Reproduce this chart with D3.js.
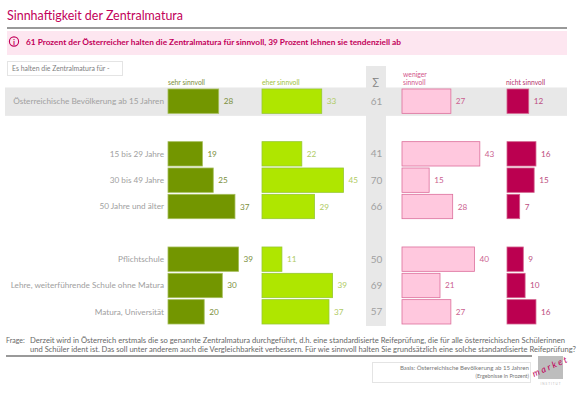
<!DOCTYPE html>
<html>
<head>
<meta charset="utf-8">
<script src="https://cdn.jsdelivr.net/npm/d3@7"></script>
<style>
  html, body { margin: 0; padding: 0; background: #fff; }
  text { font-family: Lato, "Open Sans", sans-serif; }
</style>
</head>
<body>
<div id="chart"></div>
<script>
// Values
const categories = [
  'Österreichische Bevölkerung ab 15 Jahren', '',
  '15 bis 29 Jahre', '30 bis 49 Jahre', '50 Jahre und älter', '',
  'Pflichtschule', 'Lehre, weiterführende Schule ohne Matura', 'Matura, Universität'
];
const rows = categories.filter(d => d !== '');
const sehrSinnvoll = [28, 19, 25, 37, 39, 30, 20];
const eherSinnvoll = [33, 22, 45, 29, 11, 39, 37];
const summe = [61, 41, 70, 66, 50, 69, 57];
const wenigerSinnvoll = [27, 43, 15, 28, 40, 21, 27];
const nichtSinnvoll = [12, 16, 15, 7, 9, 10, 16];

const titleText = 'Sinnhaftigkeit der Zentralmatura';
const headline = '61 Prozent der Österreicher halten die Zentralmatura für sinnvoll, 39 Prozent lehnen sie tendenziell ab';
const questionLines = [
  'Derzeit wird in Österreich erstmals die so genannte Zentralmatura durchgeführt, d.h. eine standardisierte Reifeprüfung, die für alle österreichischen Schülerinnen',
  'und Schüler ident ist. Das soll unter anderem auch die Vergleichbarkeit verbessern. Für wie sinnvoll halten Sie grundsätzlich eine solche standardisierte Reifeprüfung?'
];
const questionWidths = [535, 546];

const width = 580;
const height = 393;
const pink = '#c2005a';

const svg = d3.select('#chart').append('svg')
  .attr('width', width)
  .attr('height', height)
  .style('display', 'block');

// Rows, with the empty categories acting as gaps between the groups
const y = d3.scaleBand()
  .domain(d3.range(categories.length))
  .range([89, 324])
  .paddingInner(0.075)
  .paddingOuter(0);

const rowY = i => y(categories.indexOf(rows[i]));

// One small panel per answer
const panels = [
  { values: sehrSinnvoll, x0: 168, fill: '#739600', stroke: '#a4bd5a', text: '#7b8f3c' },
  { values: eherSinnvoll, x0: 262, fill: '#afe600', stroke: '#96c832', text: '#afcb62' },
  { values: wenigerSinnvoll, x0: 402, fill: '#ffc8de', stroke: '#dc6e9b', text: '#cb5f90' },
  { values: nichtSinnvoll, x0: 507, fill: '#bb0050', stroke: '#d2608c', text: '#bd4f82' }
];

// Header furniture
svg.append('text')
  .attr('x', 7).attr('y', 20)
  .attr('font-size', 13.4)
  .attr('textLength', 176)
  .attr('lengthAdjust', 'spacingAndGlyphs')
  .attr('fill', pink)
  .text(titleText);

svg.append('rect').attr('x', 7).attr('y', 27).attr('width', 560).attr('height', 2).attr('fill', '#999');
svg.append('rect').attr('x', 7).attr('y', 31).attr('width', 560).attr('height', 24).attr('fill', '#fde6f0');

svg.append('circle')
  .attr('cx', 14).attr('cy', 41.5).attr('r', 4.6)
  .attr('fill', 'none').attr('stroke', pink).attr('stroke-width', 1.1);
svg.append('text')
  .attr('x', 14).attr('y', 44.6)
  .attr('text-anchor', 'middle')
  .attr('font-size', 8).attr('font-weight', 700)
  .attr('fill', pink)
  .text('i');

svg.append('text')
  .attr('x', 26).attr('y', 44.5)
  .attr('font-size', 8.3).attr('font-weight', 700)
  .attr('textLength', 375)
  .attr('lengthAdjust', 'spacingAndGlyphs')
  .attr('fill', pink)
  .text(headline);

svg.append('rect')
  .attr('x', 7.5).attr('y', 61.5).attr('width', 115).attr('height', 14)
  .attr('fill', '#fff').attr('stroke', '#e4e4e4');
svg.append('text')
  .attr('x', 12).attr('y', 70.5)
  .attr('font-size', 6.9)
  .attr('fill', '#808080')
  .text('Es halten die Zentralmatura für -');

// Grey band behind the total row and the sum column
svg.append('rect')
  .attr('x', 5).attr('y', y(0) - 1.5).attr('width', 562).attr('height', y.bandwidth() + 4)
  .attr('fill', '#e8e8e8');
svg.append('rect')
  .attr('x', 366).attr('y', 66).attr('width', 20).attr('height', 260)
  .attr('fill', '#e8e8e8');

// Column headers
const headers = [
  { lines: ['sehr sinnvoll'], x: 168, fill: '#7b8f3c' },
  { lines: ['eher sinnvoll'], x: 262, fill: '#a0c23c' },
  { lines: ['weniger', 'sinnvoll'], x: 403, fill: '#d2558c' },
  { lines: ['nicht sinnvoll'], x: 506, fill: '#b4326e' }
];
headers.forEach(h => {
  h.lines.forEach((line, i) => {
    svg.append('text')
      .attr('x', h.x)
      .attr('y', 85 - (h.lines.length - 1 - i) * 8)
      .attr('font-size', 6.8)
      .attr('fill', h.fill)
      .text(line);
  });
});
svg.append('text')
  .attr('x', 376).attr('y', 85)
  .attr('text-anchor', 'middle')
  .attr('font-size', 10)
  .attr('fill', '#808080')
  .text('∑');

// Row labels
svg.selectAll('.row-label')
  .data(rows)
  .enter()
  .append('text')
  .attr('class', 'row-label')
  .attr('x', 164)
  .attr('y', (d, i) => rowY(i) + y.bandwidth() / 2 + 2.8)
  .attr('text-anchor', 'end')
  .attr('font-size', 8.2)
  .attr('fill', '#a0a0a0')
  .text(d => d);

// Bars and value labels
panels.forEach(p => {
  const x = d3.scaleLinear().domain([0, 1]).range([p.x0, p.x0 + 1.81]);
  const g = svg.append('g');

  g.selectAll('rect')
    .data(p.values)
    .enter()
    .append('rect')
    .attr('x', x(0))
    .attr('y', (d, i) => rowY(i))
    .attr('width', d => x(d) - x(0))
    .attr('height', y.bandwidth())
    .attr('fill', p.fill)
    .attr('stroke', p.stroke)
    .attr('stroke-width', 0.8);

  g.selectAll('text')
    .data(p.values)
    .enter()
    .append('text')
    .attr('x', d => x(d) + 5)
    .attr('y', (d, i) => rowY(i) + y.bandwidth() / 2 + 3)
    .attr('font-size', 8.2)
    .attr('fill', p.text)
    .text(d => d);
});

// Sum column
svg.selectAll('.sum')
  .data(summe)
  .enter()
  .append('text')
  .attr('class', 'sum')
  .attr('x', 376.5)
  .attr('y', (d, i) => rowY(i) + y.bandwidth() / 2 + 3.4)
  .attr('text-anchor', 'middle')
  .attr('font-size', 10)
  .attr('fill', '#a0a0a0')
  .text(d => d);

// Question text
svg.append('text')
  .attr('x', 6).attr('y', 343)
  .attr('font-size', 7)
  .attr('fill', '#666')
  .text('Frage:');
questionLines.forEach((line, i) => {
  svg.append('text')
    .attr('x', 30).attr('y', 343 + i * 8.7)
    .attr('font-size', 7)
    .attr('textLength', questionWidths[i])
    .attr('lengthAdjust', 'spacingAndGlyphs')
    .attr('fill', '#666')
    .text(line);
});
svg.append('rect').attr('x', 6).attr('y', 355).attr('width', 526).attr('height', 2).attr('fill', '#999');

// Basis box
svg.append('rect')
  .attr('x', 372.5).attr('y', 362.5).attr('width', 158).attr('height', 20)
  .attr('fill', '#fff').attr('stroke', '#e4e4e4');
svg.append('text')
  .attr('x', 529).attr('y', 370)
  .attr('text-anchor', 'end')
  .attr('font-size', 6.1)
  .attr('fill', '#777')
  .text('Basis: Österreichische Bevölkerung ab 15 Jahren');
svg.append('text')
  .attr('x', 529).attr('y', 377.5)
  .attr('text-anchor', 'end')
  .attr('font-size', 5.4)
  .attr('fill', '#777')
  .text('(Ergebnisse in Prozent)');

// Logo
svg.append('rect').attr('x', 538).attr('y', 356).attr('width', 25).attr('height', 23).attr('fill', '#bdbdbd');
svg.append('text')
  .attr('transform', 'translate(534,377) rotate(-24)')
  .attr('font-size', 9)
  .attr('font-style', 'italic')
  .attr('letter-spacing', 2.2)
  .attr('fill', pink)
  .text('market');
svg.append('text')
  .attr('x', 551).attr('y', 384.5)
  .attr('text-anchor', 'middle')
  .attr('font-size', 3)
  .attr('letter-spacing', 1)
  .attr('fill', '#bbb')
  .text('INSTITUT');
</script>
</body>
</html>
